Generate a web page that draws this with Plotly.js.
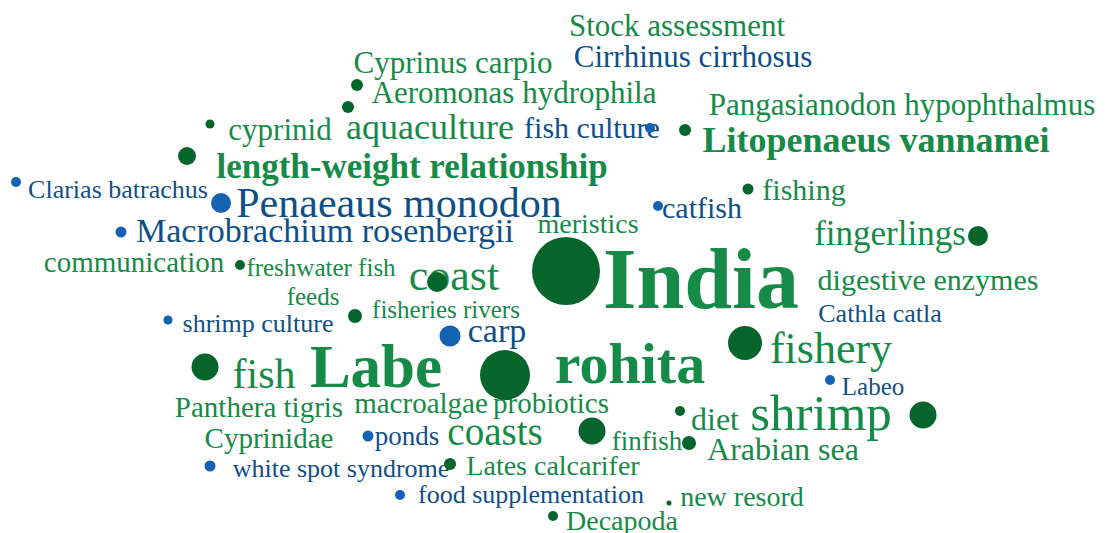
<!DOCTYPE html>
<html>
<head>
<meta charset="utf-8">
<script src="https://cdn.plot.ly/plotly-3.0.1.min.js"></script>
<style>html,body{margin:0;padding:0;background:#fff;}#chart{width:1106px;height:533px;}</style>
</head>
<body>
<div id="chart"></div>
<script>
// Keyword map: term labels (map coordinates, label size, cluster 0 = green, 1 = blue)
const terms = ["Stock assessment","Cirrhinus cirrhosus","Cyprinus carpio","Aeromonas hydrophila","cyprinid","aquaculture","fish culture","Pangasianodon hypophthalmus","Litopenaeus vannamei","length-weight relationship","Clarias batrachus","Penaeaus monodon","Macrobrachium rosenbergii","meristics","catfish","fishing","fingerlings","digestive enzymes","Cathla catla","India","communication","freshwater fish","coast","feeds","fisheries rivers","shrimp culture","carp","Labe","rohita","fish","fishery","Labeo","Panthera tigris","macroalgae","probiotics","diet","shrimp","Cyprinidae","ponds","coasts","finfish","Arabian sea","white spot syndrome","Lates calcarifer","food supplementation","new resord","Decapoda"];
const termX = [677,693,453,514,280,430,592,902,876,412,118,399,325,588,702,804,890,928,880,701,134,321,454,313,446,258,497,376,630,264,831,873,259,421,551,715,821,269,407,495,647,783,341,553,531,742,622];
const termBaseline = [36,67,73,103,140,139,138,115,152,178,198,217,242,233,218,200,245,290,322,308,272,276,290,305,318,332,342,387,383,388,363,395,417,413,413,430,430,448,445,445,450,460,477,475,503,506,530];
const termSize = [31,31,31,31,31,36,30,31,36,35,26,42,34,28,30,30,35,30,26,86,29,25,44,25,25,26,34,61,58,42,44,25,29,29,29,32,51,29,27,39,27,32,26,28,26,28,28];
const termCluster = [0,1,0,0,0,0,1,0,0,0,1,1,1,0,1,0,0,0,1,0,0,0,0,0,0,1,1,0,0,0,0,1,0,0,0,0,0,0,1,0,0,0,1,0,1,0,0];
const termBold = [0,0,0,0,0,0,0,0,1,1,0,0,0,0,0,0,0,0,0,1,0,0,0,0,0,0,0,1,1,0,0,0,0,0,0,0,0,0,0,0,0,0,0,0,0,0,0];

// Nodes (map coordinates, node size, cluster)
const nodeX = [357,348,210,187,16,221,121,240,168,355,650,685,658,748,978,566,437,450,745,205,505,830,680,923,592,368,689,210,450,400,669,553];
const nodeY = [85,107,124,156,182,203,232,265,320,316,128,130,206,189,236,271,282,336,343,367,375,380,411,415,431,436,443,466,464,495,503,516];
const nodeSize = [12,12,9,18,10,20,11,10,9,14,10,12,10,11,20,68,20,21,34,27,50,10,10,27,27,11,14,11,12,10,5,10];
const nodeCluster = [0,0,0,0,1,1,1,0,1,0,1,0,1,0,0,0,0,1,0,0,0,1,0,0,0,1,0,1,0,1,0,0];

const textColors = ["#168a47", "#0f4f87"];
const nodeColors = ["#05652b", "#1463b3"];

const labelY = termBaseline.map((b, i) => b - 0.25 * termSize[i]);
const labelText = terms.map((t, i) => termBold[i] ? "<b>" + t + "</b>" : t);

const textTrace = {
  type: "scatter",
  mode: "text",
  x: termX,
  y: labelY,
  text: labelText,
  textposition: "middle center",
  cliponaxis: false,
  hoverinfo: "skip",
  textfont: {
    family: "Liberation Serif, Times New Roman, serif",
    size: termSize,
    color: termCluster.map(c => textColors[c])
  }
};

const nodeTrace = {
  type: "scatter",
  mode: "markers",
  x: nodeX,
  y: nodeY,
  cliponaxis: false,
  hoverinfo: "skip",
  marker: {
    size: nodeSize,
    opacity: 1,
    color: nodeCluster.map(c => nodeColors[c]),
    line: {width: 0}
  }
};

const layout = {
  width: 1106,
  height: 533,
  margin: {l: 0, r: 0, t: 0, b: 0, pad: 0},
  paper_bgcolor: "#ffffff",
  plot_bgcolor: "#ffffff",
  showlegend: false,
  hovermode: false,
  xaxis: {range: [0, 1106], visible: false, fixedrange: true},
  yaxis: {range: [533, 0], visible: false, fixedrange: true}
};

Plotly.newPlot("chart", [textTrace, nodeTrace], layout, {displayModeBar: false, staticPlot: true});
</script>
</body>
</html>
